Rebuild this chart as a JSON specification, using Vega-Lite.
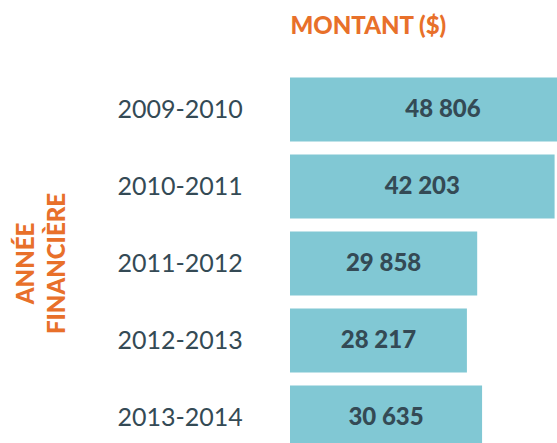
{
  "$schema": "https://vega.github.io/schema/vega-lite/v6.json",
  "autosize": {"type": "none"},
  "padding": {"left": 290, "top": 71, "right": 0, "bottom": 0},
  "width": 306,
  "height": 385,
  "background": "white",
  "config": {"view": {"stroke": null}},
  "data": {"values": [
    {"annee": "2009-2010", "montant": 48806, "label": "48 806"},
    {"annee": "2010-2011", "montant": 42203, "label": "42 203"},
    {"annee": "2011-2012", "montant": 29858, "label": "29 858"},
    {"annee": "2012-2013", "montant": 28217, "label": "28 217"},
    {"annee": "2013-2014", "montant": 30635, "label": "30 635"}
  ]},
  "transform": [{"calculate": "datum.montant / 2", "as": "milieu"}],
  "encoding": {
    "y": {
      "field": "annee", "type": "nominal", "sort": null,
      "scale": {"paddingInner": 0.17, "paddingOuter": 0.085},
      "axis": {
        "title": ["ANNÉE", "FINANCIÈRE"],
        "titleFont": "Lato", "titleFontWeight": 900, "titleFontSize": 24,
        "titleColor": "#e8702a", "titleLineHeight": 31,
        "titleAngle": -90, "titleBaseline": "middle", "titleAlign": "center",
        "titleX": -264, "titleY": 192,
        "labelFont": "Lato", "labelFontSize": 25, "labelColor": "#344a55",
        "labelAlign": "left", "labelBaseline": "middle", "labelPadding": 173,
        "ticks": false, "tickSize": 0, "domain": false, "grid": false
      }
    }
  },
  "layer": [
    {
      "mark": {"type": "bar", "color": "#81c8d4"},
      "encoding": {
        "x": {
          "field": "montant", "type": "quantitative",
          "scale": {"domain": [0, 48806], "nice": false, "zero": true},
          "axis": {
            "orient": "top", "title": "MONTANT ($)",
            "titleFont": "Lato", "titleFontWeight": 900, "titleFontSize": 24,
            "titleColor": "#e8702a", "titleAnchor": "start", "titleAlign": "left",
            "titleBaseline": "alphabetic", "titleX": 0, "titleY": -38,
            "labels": false, "ticks": false, "domain": false, "grid": false
          }
        }
      }
    },
    {
      "mark": {"type": "text", "font": "Lato", "fontWeight": 900, "fontSize": 24, "color": "#344a55", "align": "center", "baseline": "middle"},
      "encoding": {
        "x": {"field": "milieu", "type": "quantitative"},
        "text": {"field": "label"}
      }
    }
  ]
}
